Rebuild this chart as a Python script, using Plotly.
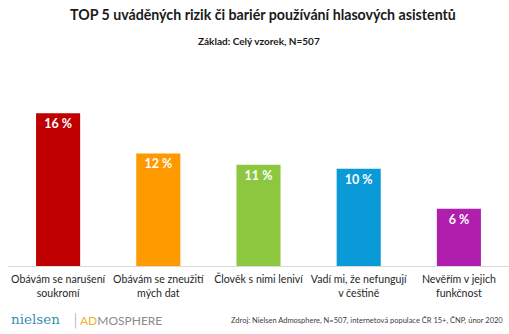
import plotly.graph_objects as go

categories = ["Obávám se narušení<br>soukromí", "Obávám se zneužití<br>mých dat",
              "Člověk s nimi leniví", "Vadí mi, že nefungují<br>v češtině",
              "Nevěřím v jejich<br>funkčnost"]
values = [16.0, 11.8, 10.6, 10.2, 6.0]
labels = ["16 %", "12 %", "11 %", "10 %", "6 %"]
colors = ["#C00000", "#FF9900", "#8DC63F", "#0A9AD7", "#B01EAE"]

fig = go.Figure(go.Bar(
    x=categories, y=values, marker=dict(color=colors, line=dict(width=0)),
    text=labels, textposition="inside", insidetextanchor="end",
    textfont=dict(family="Lato", size=12.5, color="white", weight="bold"),
    cliponaxis=False, width=0.44,
))

fig.update_layout(
    width=509, height=334,
    margin=dict(l=8, r=0, t=100, b=68),
    paper_bgcolor="white", plot_bgcolor="white",
    showlegend=False,
    font=dict(family="Lato", color="#262626"),
    xaxis=dict(showline=True, linecolor="#D9D9D9", linewidth=1, ticks="",
               tickangle=0, automargin=False, ticklabelstandoff=3,
               tickfont=dict(size=10.6, color="#262626")),
    yaxis=dict(visible=False, range=[0, 17.4]),
    annotations=[
        dict(text="<b>TOP 5 uváděných rizik či bariér používání hlasových asistentů</b>",
             xref="paper", yref="paper", x=0.5, y=1, xanchor="center", yanchor="middle",
             xshift=4, yshift=86, showarrow=False,
             font=dict(size=14.2, color="#1a1a1a")),
        dict(text="<b>Základ: Celý vzorek, N=507</b>",
             xref="paper", yref="paper", x=0.5, y=1, xanchor="center", yanchor="middle",
             yshift=59, showarrow=False, font=dict(size=10, color="#1a1a1a")),
        dict(text="Zdroj: Nielsen Admosphere, N=507, internetová populace ČR 15+, ČNP, únor 2020",
             xref="paper", yref="paper", x=1, y=0, xanchor="right", yanchor="middle",
             xshift=-4, yshift=-54, showarrow=False, font=dict(size=7.5, color="#404040")),
        dict(text="nielsen", xref="paper", yref="paper", x=0, y=0, xanchor="left", yanchor="middle",
             xshift=1, yshift=-53, showarrow=False,
             font=dict(family="DejaVu Serif", size=13.5, color="#3A8FB0")),
        dict(text="│", xref="paper", yref="paper", x=0, y=0, xanchor="left", yanchor="middle",
             xshift=60, yshift=-54, showarrow=False,
             font=dict(size=14, color="#B0B0B0")),
        dict(text="<span style='color:#F0B030'>AD</span>MOSPHERE", xref="paper", yref="paper",
             x=0, y=0, xanchor="left", yanchor="middle",
             xshift=70, yshift=-54, showarrow=False,
             font=dict(family="Lato", size=12, color="#8A8A8A")),
    ],
)

fig.write_html("out.html")
